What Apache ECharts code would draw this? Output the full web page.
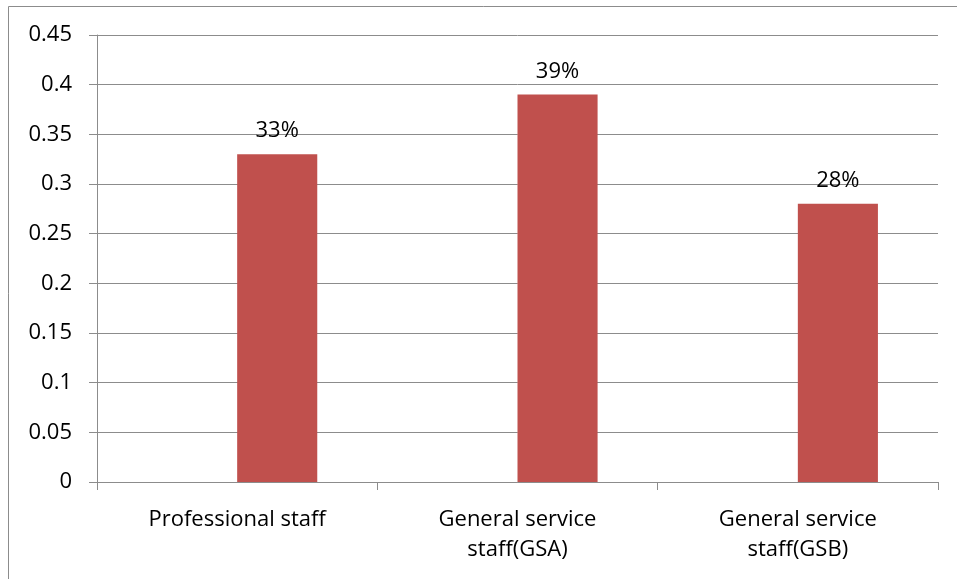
<!DOCTYPE html>
<html><head><meta charset="utf-8">
<script src="https://cdn.jsdelivr.net/npm/echarts@6/dist/echarts.min.js"></script>
<style>html,body{margin:0;padding:0;background:#fff}#c{width:957px;height:579px}</style>
</head><body><div id="c"></div>
<script>
const categories = ['Professional staff', 'General service\nstaff(GSA)', 'General service\nstaff(GSB)'];
const values = [0.33, 0.39, 0.28];
const emptySeries = ['-', '-', '-'];
const yTicks = [0, 0.05, 0.1, 0.15, 0.2, 0.25, 0.3, 0.35, 0.4, 0.45];

const chart = echarts.init(document.getElementById('c'), null, {renderer: 'canvas'});
const font = 'Open Sans';
const fs = 22;
chart.setOption({
  animation: false,
  backgroundColor: '#fff',
  graphic: [{
    type: 'rect', shape: {x: 8.5, y: 6.5, width: 1200, height: 1200},
    style: {fill: 'none', stroke: '#8c8c8c', lineWidth: 1}, silent: true
  }],
  grid: {left: 97, right: 19, top: 35, bottom: 97, containLabel: false},
  xAxis: {
    type: 'category', data: categories,
    axisLine: {show: true, lineStyle: {color: '#8c8c8c', width: 1}},
    axisTick: {show: true, length: 8, alignWithLabel: false, lineStyle: {color: '#8c8c8c'}},
    axisLabel: {margin: 23, fontFamily: font, fontSize: fs, color: '#000', lineHeight: 30, interval: 0}
  },
  yAxis: {
    type: 'value', min: 0, max: 0.45, interval: 0.05,
    axisLine: {show: true, lineStyle: {color: '#8c8c8c', width: 1}},
    axisTick: {show: true, length: 8, inside: false, lineStyle: {color: '#8c8c8c'}},
    splitLine: {show: true, lineStyle: {color: '#8c8c8c', width: 1}},
    axisLabel: {margin: 25, fontFamily: font, fontSize: fs, color: '#000',
      formatter: v => yTicks.includes(+v.toFixed(2)) ? String(+v.toFixed(2)) : ''}
  },
  series: [
    {type: 'bar', name: 'empty', data: emptySeries, barGap: '0%', barCategoryGap: '42.86%'},
    {type: 'bar', name: 'Staff', data: values, barGap: '0%', barCategoryGap: '42.86%',
     itemStyle: {color: '#C0504D'},
     label: {show: true, position: 'top', distance: 12, fontFamily: font, fontSize: fs, color: '#000',
       formatter: p => Math.round(p.value * 100) + '%'}}
  ]
});
</script></body></html>
